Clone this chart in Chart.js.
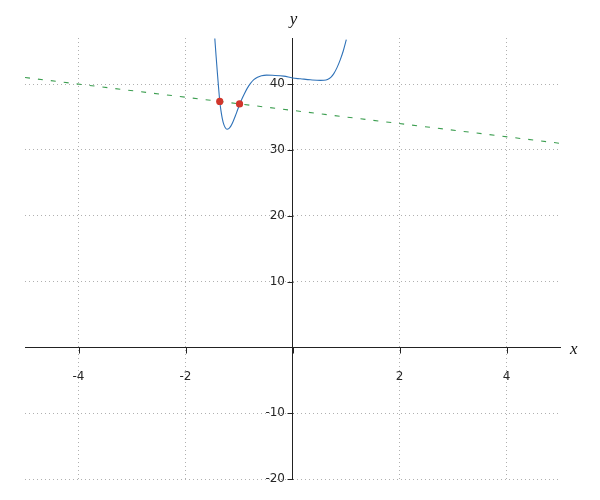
<!DOCTYPE html>
<html><head><meta charset="utf-8">
<script src="https://cdn.jsdelivr.net/npm/chart.js@4"></script>
<style>html,body{margin:0;padding:0;background:#fff}#wrap{width:600px;height:500px}</style>
</head><body><div id="wrap"><canvas id="c" width="600" height="500"></canvas></div>
<script>
// Blue curve
const curveX = [-1.452, -1.428, -1.404, -1.381, -1.359, -1.336, -1.312, -1.286, -1.256, -1.224, -1.191, -1.153, -1.112, -1.069, -1.026, -0.985, -0.948, -0.908, -0.847, -0.785, -0.723, -0.654, -0.579, -0.486, -0.374, -0.163, 0, 0.15, 0.336, 0.523, 0.589, 0.654, 0.716, 0.772, 0.832, 0.892, 0.95, 1.006];
const curveY = [46.92, 44.24, 41.67, 39.39, 37.36, 35.88, 34.76, 33.91, 33.36, 33.14, 33.23, 33.61, 34.27, 35.15, 36.09, 36.98, 37.70, 38.39, 39.35, 40.11, 40.67, 41.03, 41.26, 41.36, 41.33, 41.21, 40.92, 40.80, 40.65, 40.56, 40.58, 40.70, 41.02, 41.59, 42.50, 43.68, 45.06, 46.74];
// Green dashed line
const lineX = [-5, 5];
const lineY = [41, 31];
// Red intersection points
const pointX = [-1.36, -0.99];
const pointY = [37.36, 36.99];
// Axes
const xTicks = [-4, -2, 0, 2, 4];
const yTicks = [-20, -10, 0, 10, 20, 30, 40];
const xRange = [-5, 5];
const yRange = [-20, 47];
const xTitle = 'x';
const yTitle = 'y';

const zip = (xs, ys) => xs.map((x, i) => ({x: x, y: ys[i]}));
const tickLabel = v => (v === 0 ? '' : String(v));
const TICK = 6;

const axisExtras = {
  id: 'axisExtras',
  afterDraw(chart) {
    const ctx = chart.ctx, xs = chart.scales.x, ys = chart.scales.y, ca = chart.chartArea;
    const ax = Math.round(xs.getPixelForValue(0)) + 0.5;
    const ay = Math.round(ys.getPixelForValue(0)) + 0.5;
    ctx.save();
    ctx.strokeStyle = '#222';
    ctx.lineWidth = 1;
    ctx.beginPath();
    xs.ticks.forEach(t => {
      const px = Math.round(xs.getPixelForValue(t.value)) + 0.5;
      ctx.moveTo(px, ay); ctx.lineTo(px, ay + TICK);
    });
    ys.ticks.forEach(t => {
      const py = Math.round(ys.getPixelForValue(t.value)) + 0.5;
      ctx.moveTo(ax, py); ctx.lineTo(ax - TICK, py);
    });
    ctx.stroke();
    ctx.fillStyle = '#262626';
    ctx.font = '12px "DejaVu Sans"';
    ctx.textAlign = 'right';
    ctx.textBaseline = 'middle';
    ys.ticks.forEach(t => {
      const s = tickLabel(t.value);
      if (s) ctx.fillText(s, ax - 8.5, ys.getPixelForValue(t.value));
    });
    ctx.font = 'italic 17px "Liberation Serif"';
    ctx.fillStyle = '#111';
    ctx.textBaseline = 'alphabetic';
    ctx.textAlign = 'center';
    ctx.fillText(yTitle, ax, ca.top - 14);
    ctx.textAlign = 'left';
    ctx.fillText(xTitle, ca.right + 10, ay + 6.5);
    ctx.restore();
  }
};

const common = {
  grid: {color: '#b0b0b0', lineWidth: 1, drawTicks: false, drawOnChartArea: true},
  border: {display: true, color: '#222', width: 1, dash: [1, 3]}
};

new Chart(document.getElementById('c'), {
  type: 'line',
  data: {
    datasets: [
      {data: zip(pointX, pointY), showLine: false, pointRadius: 3.6, pointBackgroundColor: '#d0362c', pointBorderWidth: 0},
      {data: zip(curveX, curveY), borderColor: '#2f72b8', borderWidth: 1.1, pointRadius: 0, cubicInterpolationMode: 'monotone', fill: false},
      {data: zip(lineX, lineY), borderColor: '#3c9e50', borderWidth: 1.1, borderDash: [5, 8], pointRadius: 0, fill: false}
    ]
  },
  options: {
    responsive: false,
    animation: false,
    devicePixelRatio: 1,
    layout: {padding: {left: 25, right: 40, top: 38, bottom: 21}},
    plugins: {legend: {display: false}, tooltip: {enabled: false}},
    scales: {
      x: Object.assign({}, common, {
        type: 'linear', min: xRange[0], max: xRange[1], position: {y: 0},
        afterBuildTicks: s => { s.ticks = xTicks.map(v => ({value: v})); },
        afterFit: s => { s.height = 0; },
        ticks: {color: '#262626', font: {family: '"DejaVu Sans"', size: 12}, callback: tickLabel, autoSkip: false, maxRotation: 0, padding: 22}
      }),
      y: Object.assign({}, common, {
        type: 'linear', min: yRange[0], max: yRange[1], position: {x: 0},
        afterBuildTicks: s => { s.ticks = yTicks.map(v => ({value: v})); },
        afterFit: s => { s.width = 0; },
        ticks: {display: false}
      })
    }
  },
  plugins: [axisExtras]
});
</script>
</body></html>
